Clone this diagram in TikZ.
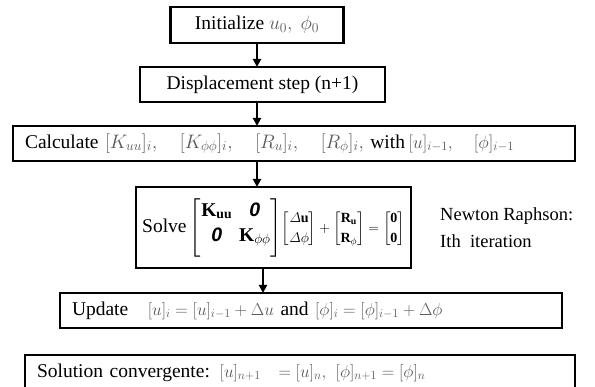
\RequirePackage{fix-cm}
\documentclass[tikz,border=0pt]{standalone}
\usepackage{amsmath,amssymb}
\usepackage{fontspec}
\setmainfont{Liberation Serif}
\newfontfamily\zerofont{Liberation Sans}
\usepackage{xcolor}
\usepackage{tikz}
\usetikzlibrary{arrows.meta,positioning,calc}

\definecolor{mathgray}{gray}{0.35}
\newcommand{\mg}[1]{\textcolor{mathgray}{$#1$}}
\newcommand{\bzero}{\text{\zerofont\bfseries\itshape 0}}

\begin{document}
\begin{tikzpicture}[
    x=1pt, y=-1pt,
    node distance=24pt,
    font=\fontsize{19.5}{23}\selectfont,
    box/.style={rectangle, draw, line width=2.6pt, minimum height=35pt, inner sep=0pt, outer sep=0pt, align=center},
    wide/.style={box, align=left, inner xsep=12pt},
    arrow/.style={-{Triangle[length=8pt,width=8pt]}, line width=2.2pt}
]
\useasboundingbox (0,0) rectangle (595,387);
\clip (0,0) rectangle (595,387);

\node[box, minimum width=173pt, minimum height=36pt] (init) at (257,25) {Initialize \mg{u_0,\ \phi_0}};
\node[box, minimum width=245pt, below=of init, xshift=5.5pt] (disp) {Displacement step (n+1)};
\node[wide, text width=538pt, below=of disp, xshift=31.5pt] (calc) {Calculate \mg{[K_{uu}]_i,\quad[K_{\phi\phi}]_i,\quad[R_u]_i,\quad[R_\phi]_i,} with\,{\fontsize{18}{21}\selectfont\mg{[u]_{i-1},\quad[\phi]_{i-1}}}};
\node[box, minimum width=275pt, minimum height=81pt, below=26pt of calc, xshift=-20.5pt] (solve) {\setlength{\arraycolsep}{3.5pt}Solve\,$\begin{bmatrix}\mathbf{K}_{\mathbf{uu}} & \bzero\\[2pt] \bzero & \mathbf{K}_{\phi\phi}\rule[-14pt]{0pt}{14pt}\end{bmatrix}${\fontsize{14}{17}\selectfont$\begin{bmatrix}\varDelta\mathbf{u}\\[3pt] \varDelta\phi\end{bmatrix}+\begin{bmatrix}\mathbf{R}_{\mathbf{u}}\\[3pt] \mathbf{R}_{\phi}\end{bmatrix}=\begin{bmatrix}\mathbf{0}\\[3pt] \mathbf{0}\end{bmatrix}$}};
\node[right=29pt of solve, align=left, inner sep=0pt, font=\fontsize{18.5}{27}\selectfont] (newton) {Newton Raphson:\\Ith\ \ iteration};
\node[wide, text width=478pt, below=25pt of solve, xshift=37.5pt] (update) {Update\quad{\fontsize{17.3}{21}\selectfont\mg{[u]_i = [u]_{i-1} + \Delta u}} and {\fontsize{17.3}{21}\selectfont\mg{[\phi]_i = [\phi]_{i-1} + \Delta\phi}}};
\node[wide, text width=526pt, below=27pt of update, xshift=-11pt] (conv) {Solution convergente: {\fontsize{17.3}{21}\selectfont\mg{[u]_{n+1}\ \ = [u]_n,\ [\phi]_{n+1} = [\phi]_n}}};

\draw[arrow] (init) -- (init |- disp.north);
\draw[arrow] (disp.south -| init) -- (init |- calc.north);
\draw[arrow] (calc.south -| init) -- (init |- solve.north);
\draw[arrow] ($(solve.south -| init)+(6,0)$) -- ($(update.north -| init)+(6,0)$);
\end{tikzpicture}
\end{document}
